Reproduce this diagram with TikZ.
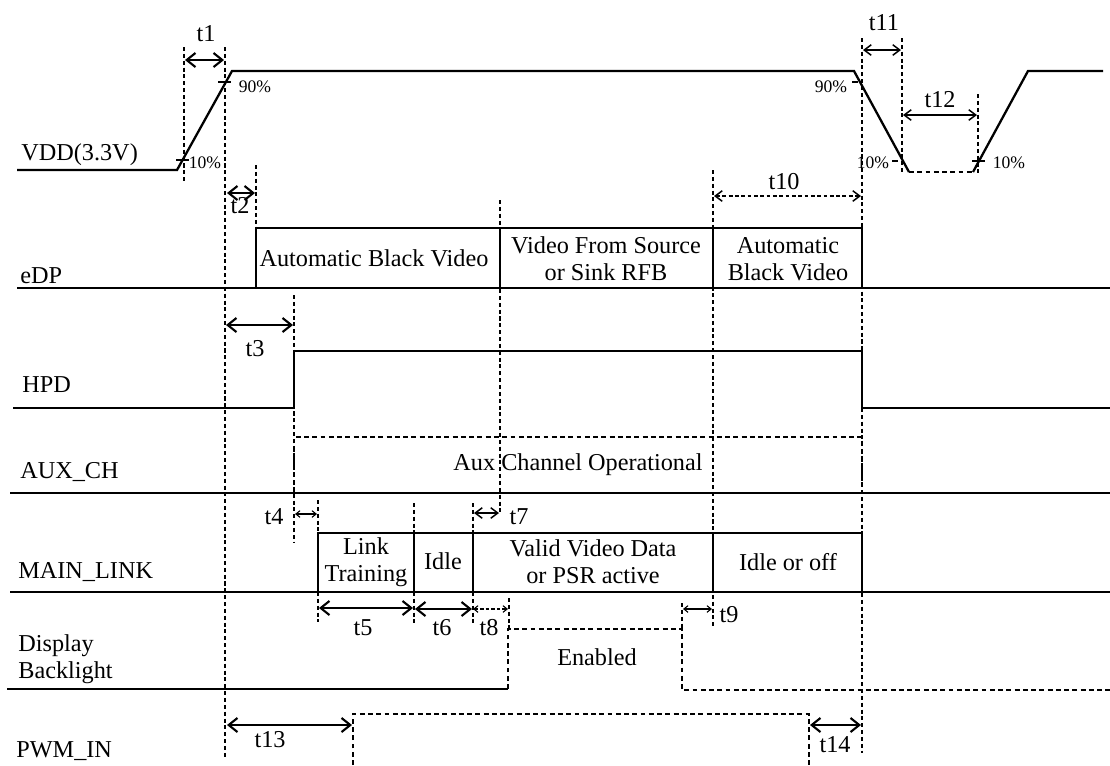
\documentclass[tikz,border=0pt]{standalone}
\usepackage{fontspec}
\setmainfont{Liberation Serif}
\usetikzlibrary{arrows.meta}
\begin{document}
\begin{tikzpicture}[x=0.02cm,y=-0.02cm,
  sig/.style={line width=1.3pt, line join=miter},
  sigdash/.style={line width=1.05pt, dash pattern=on 2.8pt off 1.9pt},
  guide/.style={line width=0.6pt, dash pattern=on 2.3pt off 1.6pt},
  tick/.style={line width=0.6pt},
  dimthick/.style={line width=1.2pt,
    {Straight Barb[length=5pt,width=8pt]}-{Straight Barb[length=5pt,width=8pt]}},
  dimmid/.style={line width=0.85pt,
    {Straight Barb[length=4pt,width=6pt]}-{Straight Barb[length=4pt,width=6pt]}},
  dimthin/.style={line width=0.6pt,
    {Straight Barb[length=2.4pt,width=3.8pt]}-{Straight Barb[length=2.4pt,width=3.8pt]}},
  lbl/.style={font=\fontsize{13.8}{15.5}\selectfont, inner sep=0pt},
  pct/.style={font=\fontsize{10}{12}\selectfont, inner sep=0pt},
]
\useasboundingbox (0,0) rectangle (1110,765);

% ---------- timing guides ----------
\draw[guide] (184,47) -- (184,183);
\draw[guide] (225,47) -- (225,757);
\draw[guide] (256,165) -- (256,228);
\draw[guide] (294,295) -- (294,542);
\draw[guide] (318,500) -- (318,533);
\draw[guide] (318,592) -- (318,622);
\draw[guide] (414,503) -- (414,533);
\draw[guide] (414,592) -- (414,623);
\draw[guide] (473,503) -- (473,533);
\draw[guide] (473,592) -- (473,623);
\draw[guide] (500,200) -- (500,515);
\draw[guide] (509,598) -- (509,629);
\draw[guide] (682,603) -- (682,629);
\draw[guide] (713,170) -- (713,627);
\draw[guide] (862,38) -- (862,753);
\draw[guide] (902,38) -- (902,175);
\draw[guide] (978,94) -- (978,175);

% ---------- VDD ----------
\draw[sig] (17,170) -- (177,170) -- (232,71) -- (854,71) -- (909,172);
\draw[sigdash] (909,172) -- (973,172);
\draw[sig] (973,172) -- (1028,71) -- (1103,71);
\draw[tick] (176,160) -- (189,160);
\draw[tick] (218,82) -- (231,82);
\draw[tick] (852,82) -- (858,82);
\draw[tick] (892,161) -- (898,161);
\draw[tick] (972,161) -- (985,161);
\node[pct] (p90a) at (255,87) {90\%};
\node[pct] (p10a) at (205,163) {10\%};
\node[pct] (p90b) at (831,87) {90\%};
\node[pct] (p10b) at (873,163) {10\%};
\node[pct] (p10c) at (1009,163) {10\%};
\node[lbl, anchor=base west] (nvdd) at (21,160) {VDD(3.3V)};

% ---------- eDP ----------
\draw[sig] (17,288) -- (1110,288);
\draw[sig] (256,288) -- (256,228) -- (862,228) -- (862,288);
\draw[sig] (500,228) -- (500,288);
\draw[sig] (713,228) -- (713,288);
\node[lbl, anchor=base west] (nedp) at (20,283) {eDP};
\node[lbl] (edp1) at (374,258) {Automatic Black Video};
\node[lbl, align=center] (edp2) at (606,259) {Video From Source\\or Sink RFB};
\node[lbl, align=center] (edp3) at (788,259) {Automatic\\Black Video};

% ---------- HPD ----------
\draw[sig] (13,408) -- (294,408) -- (294,351) -- (862,351) -- (862,408) -- (1110,408);
\node[lbl, anchor=base west] (nhpd) at (22,392) {HPD};

% ---------- AUX_CH ----------
\draw[sig] (10,493) -- (1110,493);
\draw[sigdash] (294,493) -- (294,437) -- (862,437) -- (862,493);
\node[lbl, anchor=base west] (naux) at (20,478) {AUX\_CH};
\node[lbl] (auxop) at (578,465) {Aux Channel Operational};

% ---------- MAIN_LINK ----------
\draw[sig] (10,592) -- (1110,592);
\draw[sig] (318,592) -- (318,533) -- (862,533) -- (862,592);
\draw[sig] (414,533) -- (414,592);
\draw[sig] (473,533) -- (473,592);
\draw[sig] (713,533) -- (713,592);
\node[lbl, anchor=base west] (nml) at (18,578) {MAIN\_LINK};
\node[lbl, align=center] (ml1) at (366,562) {Link\\Training};
\node[lbl] (ml2) at (443,561) {Idle};
\node[lbl, align=center] (ml3) at (593,562) {Valid Video Data\\or PSR active};
\node[lbl] (ml4) at (788,562) {Idle or off};

% ---------- Display Backlight ----------
\draw[sig] (7,689) -- (508,689);
\draw[sigdash] (508,689) -- (508,629) -- (682,629) -- (682,690) -- (1110,690);
\node[lbl, anchor=west, align=left] (nbl) at (18,659) {Display\\Backlight};
\node[lbl] (blon) at (597,657) {Enabled};

% ---------- PWM_IN ----------
\draw[sigdash] (353,765) -- (353,714) -- (809,714) -- (809,765);
\node[lbl, anchor=base west] (npwm) at (16,757) {PWM\_IN};

% ---------- timing intervals ----------
\draw[dimthick] (185,60) -- (224,60);
\node[lbl] (t1) at (206,34) {t1};
\draw[dimthick] (227,193) -- (255,193);
\node[lbl] (t2) at (240,206) {t2};
\draw[dimthick] (226,325) -- (293,325);
\node[lbl] (t3) at (255,349) {t3};
\draw[dimthin] (295,514) -- (317,514);
\node[lbl] (t4) at (274,517) {t4};
\draw[dimthick] (319,608) -- (413,608);
\node[lbl] (t5) at (363,628) {t5};
\draw[dimthick] (415,609) -- (472,609);
\node[lbl] (t6) at (442,628) {t6};
\draw[dimmid] (474,513) -- (499,513);
\node[lbl] (t7) at (519,517) {t7};
\draw[dimthin, dash pattern=on 2pt off 1.2pt] (473,609) -- (508,609);
\node[lbl] (t8) at (489,628) {t8};
\draw[dimthin] (683,609) -- (712,609);
\node[lbl] (t9) at (729,615) {t9};
\draw[dimmid, dash pattern=on 2.2pt off 1.4pt] (714,196) -- (861,196);
\node[lbl] (t10) at (784,182) {t10};
\draw[dimmid] (863,50) -- (901,50);
\node[lbl] (t11) at (884,23) {t11};
\draw[dimmid] (903,115) -- (977,115);
\node[lbl] (t12) at (940,100) {t12};
\draw[dimthick] (227,725) -- (352,725);
\node[lbl] (t13) at (270,740) {t13};
\draw[dimthick] (810,725) -- (861,725);
\node[lbl] (t14) at (835,745) {t14};
\end{tikzpicture}
\end{document}
